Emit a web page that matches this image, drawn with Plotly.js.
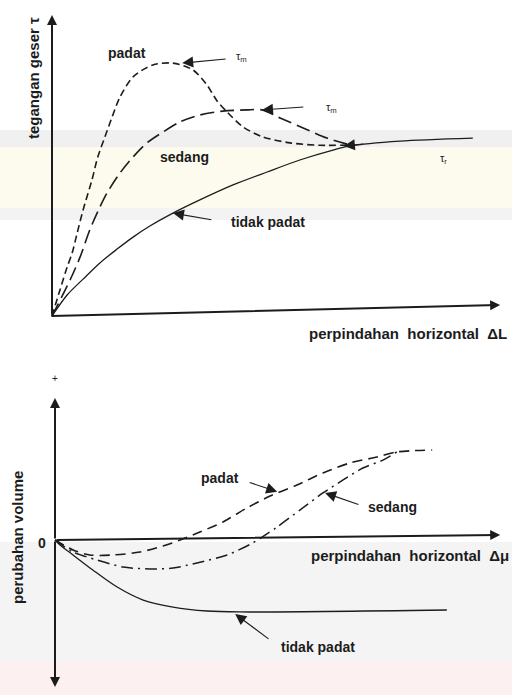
<!DOCTYPE html>
<html>
<head>
<meta charset="utf-8">
<script src="https://cdn.plot.ly/plotly-3.0.1.min.js"></script>
<style>html,body{margin:0;padding:0;background:#fff;}#chart{width:512px;height:695px;}</style>
</head>
<body>
<div id="chart"></div>
<script>
// ---------- DATA (schematic values) ----------
// Top: shear stress (tegangan geser) vs horizontal displacement
var topPadatX   = [0, 1.9, 3.6, 4.8, 6.0, 7.4, 9.5, 10.9, 12.6, 14.3, 16.2, 19.3, 24.0, 28.8, 33.6, 36.9, 39.3, 41.7, 45.5, 50.2, 56.7, 63.8, 71.0];
var topPadatY   = [0, 8.7, 16.3, 21.0, 27.7, 35.3, 45.3, 53.0, 59.7, 66.3, 73.0, 79.7, 83.7, 84.3, 82.0, 77.0, 71.7, 68.0, 63.0, 59.7, 57.7, 56.9, 57.0];
var topSedangX  = [0, 4.3, 6.7, 9.0, 11.4, 13.1, 16.2, 19.3, 22.6, 26.4, 30.5, 35.2, 40.7, 46.4, 50.0, 54.3, 59.8, 65.5, 71.0];
var topSedangY  = [0, 12.0, 19.7, 28.7, 36.3, 41.0, 47.7, 53.0, 57.7, 61.3, 64.7, 67.0, 68.3, 68.7, 68.7, 66.0, 62.7, 59.3, 57.0];
var topTidakX   = [0, 3.6, 7.4, 11.4, 15.5, 19.3, 23.3, 28.8, 35.2, 43.1, 51.2, 59.0, 66.9, 71.0, 82.9, 100.2];
var topTidakY   = [0, 7.0, 12.3, 17.7, 22.3, 26.3, 30.0, 34.3, 38.7, 43.7, 48.0, 52.0, 55.3, 56.7, 58.3, 59.3];

// Bottom: volume change (perubahan volume) vs horizontal displacement
var botPadatX   = [0, 4.3, 8.3, 13.8, 20.2, 25.7, 29.8, 34.5, 40.0, 45.7, 51.2, 57.6, 63.8, 70.2, 76.7, 81.4, 89.8];
var botPadatY   = [0, -7.1, -10.7, -10.7, -8.6, -4.3, 0, 5.7, 12.9, 22.9, 31.4, 39.3, 47.9, 55.0, 59.3, 62.9, 64.3];
var botSedangX  = [0, 4.3, 10.0, 16.2, 22.6, 28.1, 33.8, 41.0, 47.1, 49.3, 52.9, 58.3, 63.8, 68.6, 73.3, 78.1, 81.4];
var botSedangY  = [0, -8.6, -14.3, -19.3, -20.7, -20.0, -16.4, -10.7, -2.1, 2.1, 9.3, 21.4, 33.6, 42.9, 51.4, 57.1, 62.9];
var botTidakX   = [0, 1.2, 4.3, 9.0, 14.8, 21.0, 28.1, 36.2, 44.0, 93.3];
var botTidakY   = [0, -3.6, -10.7, -21.4, -33.6, -42.9, -47.9, -50.7, -51.4, -50.0];

// Text labels
var NB = "\u00A0";
var topYTitle = "tegangan geser τ";
var botYTitle = "perubahan volume";
var topXTitle = "perpindahan" + NB + NB + "horizontal" + NB + NB + "ΔL";
var botXTitle = "perpindahan" + NB + NB + "horizontal" + NB + NB + "Δμ";
var labelPadat = "padat", labelSedang = "sedang", labelTidak = "tidak" + NB + "padat";
var labelTm = "τ<sub>m</sub>", labelTr = "τ<sub>r</sub>";

// ---------- LAYOUT HELPERS ----------
var W = 512, H = 695;
function fx(px){ return px / W; }
function fy(py){ return 1 - py / H; }
var INK = "#1c1c1c";
var FONT = "Liberation Sans, Arial, Helvetica, sans-serif";

function line(x, y, dash, width, xa, ya){
  return {x: x, y: y, xaxis: xa, yaxis: ya, type: "scatter", mode: "lines",
          line: {color: INK, width: width, dash: dash, shape: "spline", smoothing: 0.8},
          hoverinfo: "skip", showlegend: false};
}

var traces = [
  line(topPadatX, topPadatY, "7px,4px", 1.6, "x", "y"),
  line(topSedangX, topSedangY, "14px,6px", 1.6, "x", "y"),
  line(topTidakX, topTidakY, "solid", 1.3, "x", "y"),
  line(botPadatX, botPadatY, "10px,6px", 1.6, "x2", "y2"),
  line(botSedangX, botSedangY, "12px,5px,2px,5px", 1.5, "x2", "y2"),
  line(botTidakX, botTidakY, "solid", 1.3, "x2", "y2")
];

function txt(text, px, py, size, opts){
  var a = {text: text, xref: "paper", yref: "paper", x: fx(px), y: fy(py),
           showarrow: false, font: {family: FONT, size: size, color: INK, weight: "bold"},
           xanchor: "center", yanchor: "middle"};
  for (var k in (opts||{})) a[k] = opts[k];
  return a;
}
function arrow(sub, tx, ty, hx, hy, w, head, size){
  var xr = sub === 2 ? "x2" : "x", yr = sub === 2 ? "y2" : "y";
  return {text: "", xref: xr, yref: yr, axref: xr, ayref: yr,
          x: hx, y: hy, ax: tx, ay: ty, showarrow: true,
          arrowhead: head, arrowsize: size, arrowwidth: w, arrowcolor: INK, standoff: 0, startstandoff: 0};
}

var annotations = [
  // axes
  arrow(1, 0, 0, 0, 100.3, 2, 2, 1),
  arrow(1, -0.5, 0, 106.7, 3.7, 2, 2, 1),
  arrow(2, 0, 0, 0, 101.4, 2, 2, 1),
  arrow(2, 0, 0, 0, -105, 2, 2, 1),
  arrow(2, 0, 0, 106, 3.6, 2, 2, 1),
  // pointer arrows (top)
  arrow(1, 41.7, 85.7, 31.0, 84.3, 1.1, 2, 2),
  arrow(1, 60.2, 69.7, 50.0, 68.7, 1.1, 2, 2),
  arrow(1, 38.3, 32.0, 28.8, 34.3, 1.1, 2, 2),
  arrow(1, 74.5, 57.4, 69.5, 56.7, 1.1, 2, 2),
  // pointer arrows (bottom)
  arrow(2, 46.0, 41.4, 52.9, 34.5, 1.1, 2, 2),
  arrow(2, 72.6, 25.0, 64.3, 33.6, 1.1, 2, 2),
  arrow(2, 51.2, -71.4, 42.9, -52.9, 1.1, 2, 2),
  // labels (top)
  txt(labelPadat, 127, 53, 14),
  txt(labelTm, 241, 57, 11, {font:{family:FONT,size:11,color:INK}}),
  txt(labelTm, 331, 108, 11, {font:{family:FONT,size:11,color:INK}}),
  txt(labelSedang, 184, 157, 14),
  txt(labelTr, 443, 159, 11, {font:{family:FONT,size:11,color:INK}}),
  txt(labelTidak, 268, 222, 14),
  txt(topXTitle, 307, 333, 15, {xanchor:"left"}),
  txt(topYTitle, 33, 78, 15, {textangle:-90}),
  // labels (bottom)
  txt("+", 55, 378, 10, {font:{family:FONT,size:10,color:INK}}),
  txt("0", 42, 543, 14),
  txt(labelPadat, 220, 478, 14),
  txt(labelSedang, 392, 507, 14),
  txt(labelTidak, 318, 647, 14),
  txt(botXTitle, 309, 555, 15, {xanchor:"left"}),
  txt(botYTitle, 17, 538, 15, {textangle:-90})
];

// faint scan background bands
function band(y0, y1, color){
  return {type: "rect", xref: "paper", yref: "paper", x0: 0, x1: 1, y0: fy(y1), y1: fy(y0),
          fillcolor: color, line: {width: 0}, layer: "below"};
}
var shapes = [
  band(130, 147, "#f0f0f0"),
  band(147, 208, "#fdfbee"),
  band(208, 220, "#f3f3f3"),
  band(542, 662, "#f4f4f4"),
  band(662, 695, "#fcf0f0")
];

function ax(domain, range, anchor){
  return {domain: domain, range: range, anchor: anchor, visible: false, fixedrange: true,
          showgrid: false, zeroline: false, showticklabels: false};
}

var layout = {
  width: W, height: H,
  margin: {l: 0, r: 0, t: 0, b: 0},
  paper_bgcolor: "#ffffff", plot_bgcolor: "rgba(0,0,0,0)",
  showlegend: false,
  xaxis:  ax([0, 1], [-52/4.2, 460/4.2], "y"),
  yaxis:  ax([0.5, 1], [(316-347.5)/3, 316/3], "x"),
  xaxis2: ax([0, 1], [-55/4.2, 457/4.2], "y2"),
  yaxis2: ax([0, 0.5], [(540-695)/1.4, (540-347.5)/1.4], "x2"),
  annotations: annotations,
  shapes: shapes
};

Plotly.newPlot("chart", traces, layout, {staticPlot: true, displayModeBar: false});
</script>
</body>
</html>
